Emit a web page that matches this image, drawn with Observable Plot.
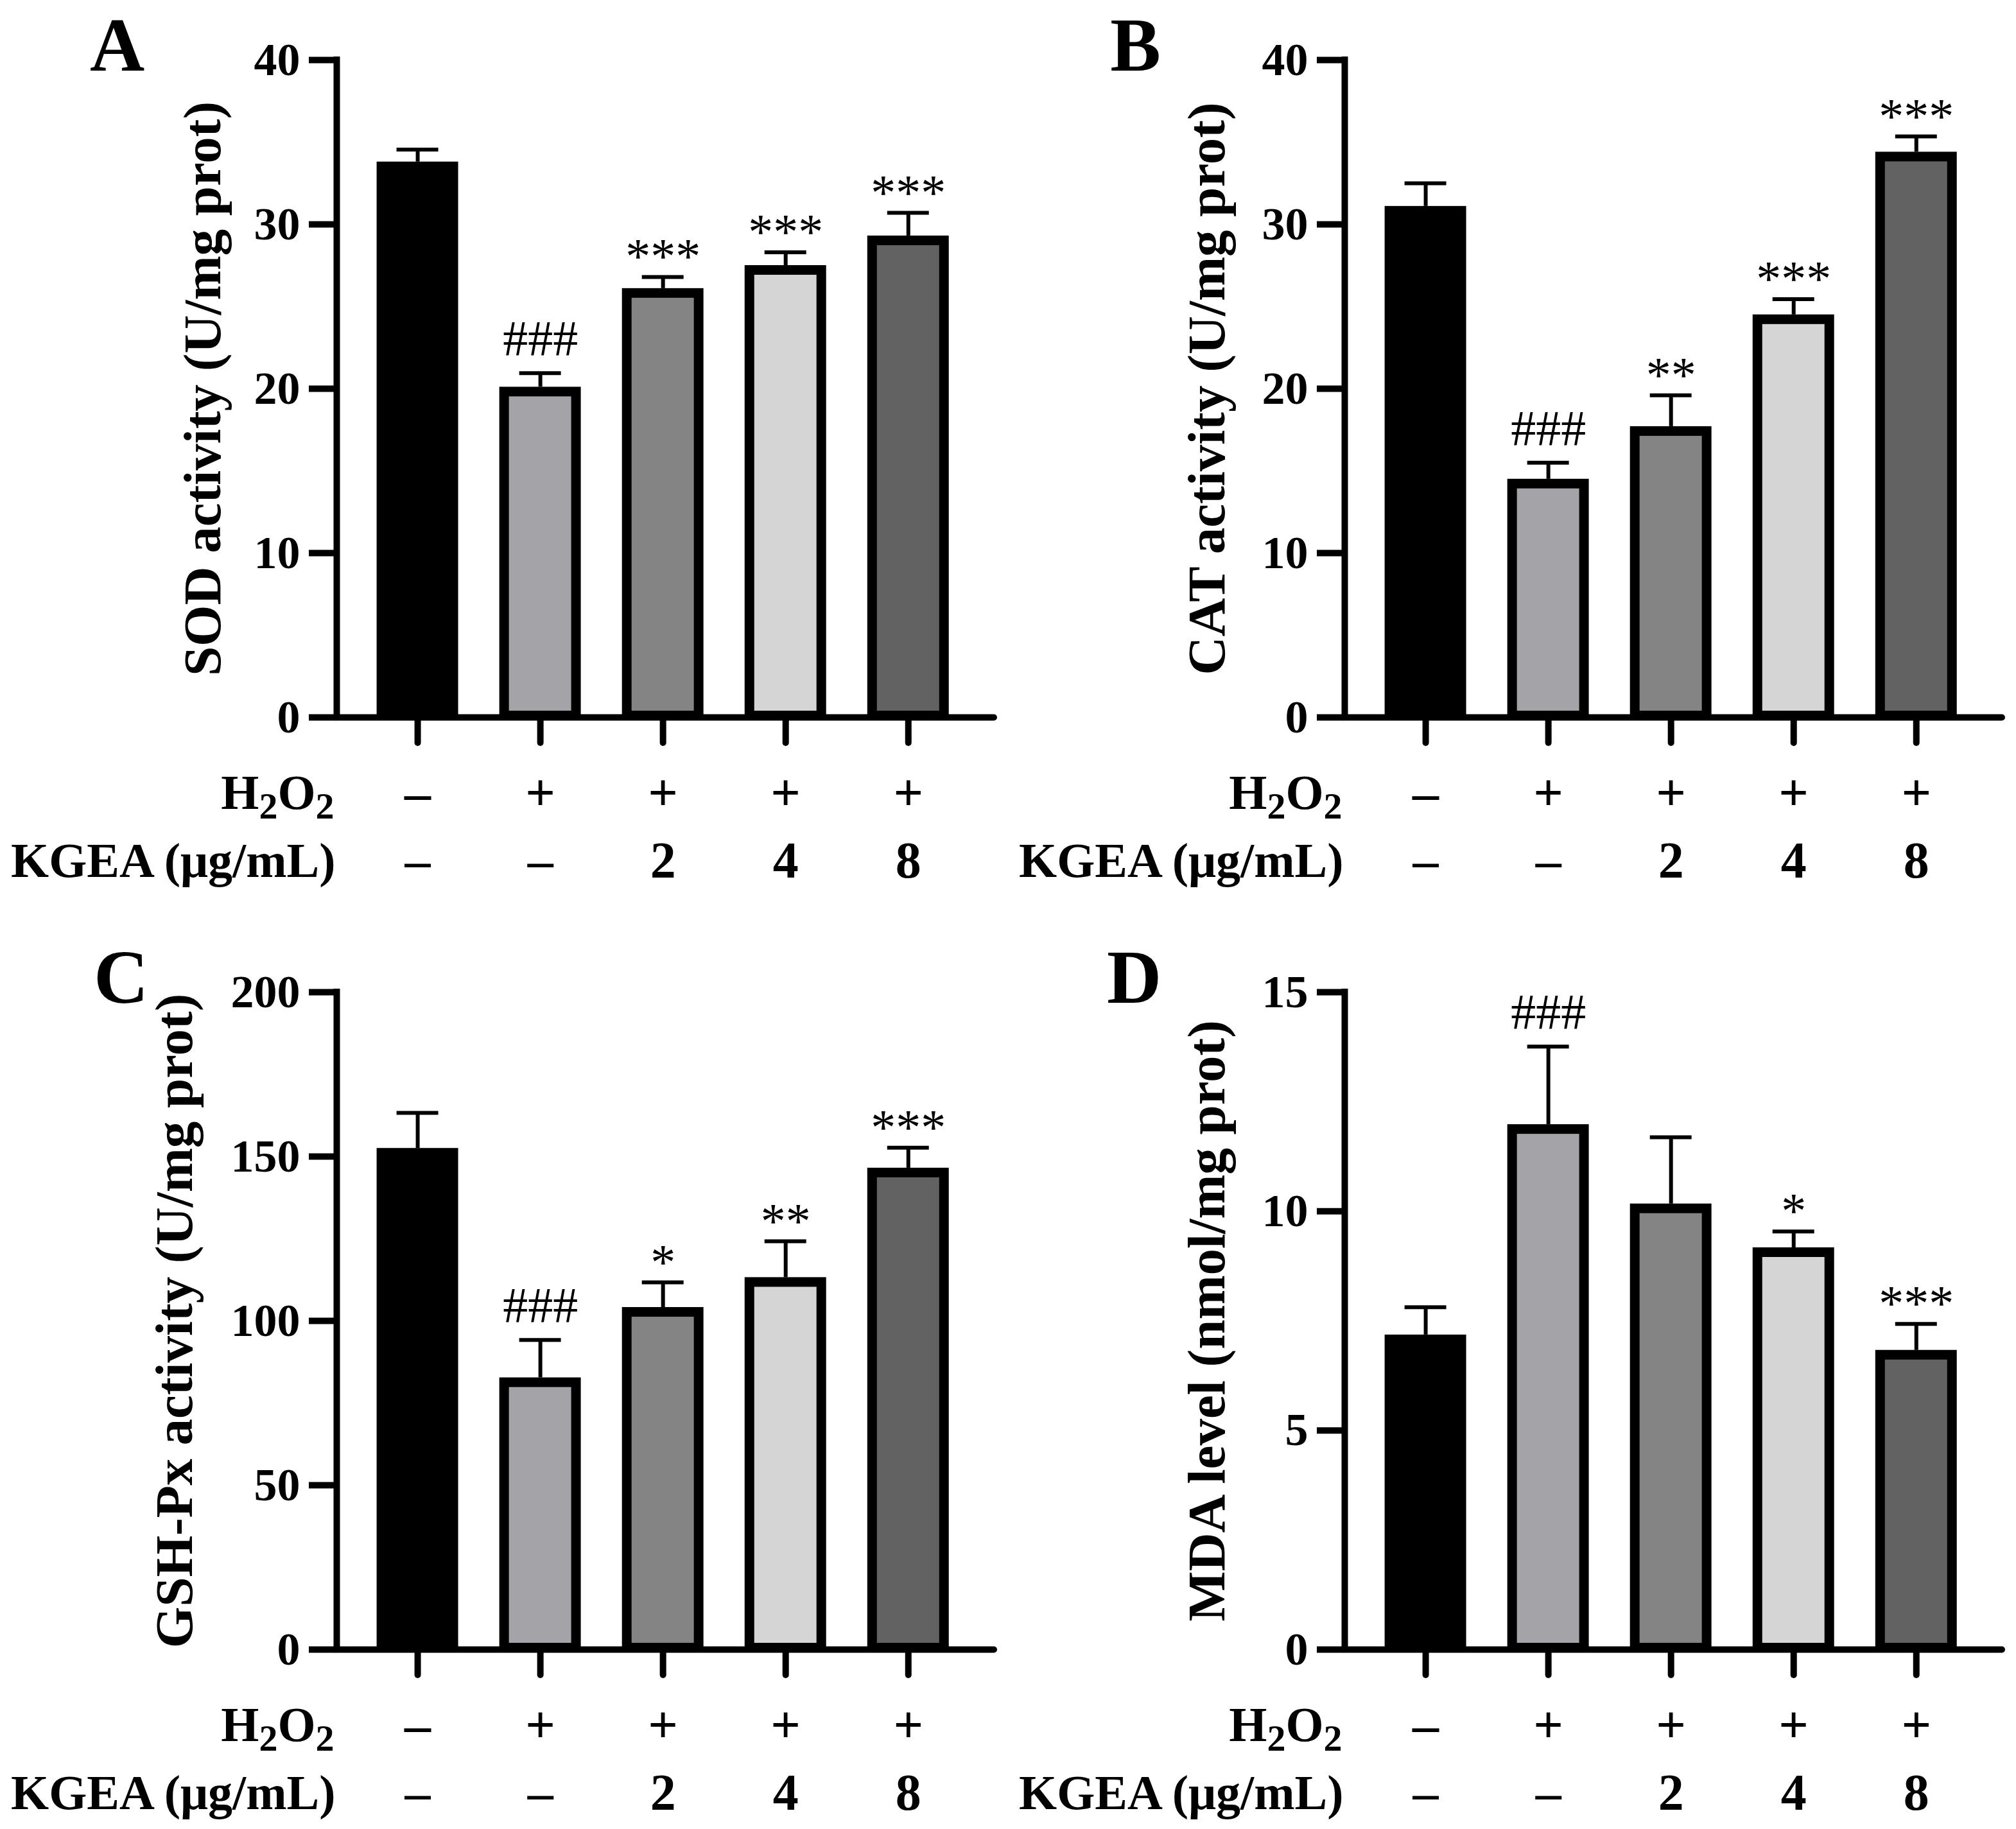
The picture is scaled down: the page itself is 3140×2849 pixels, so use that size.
<!DOCTYPE html>
<html><head><meta charset="utf-8">
<script src="https://cdn.jsdelivr.net/npm/d3@7"></script>
<script src="https://cdn.jsdelivr.net/npm/@observablehq/plot@0.6"></script>
<style>
html,body{margin:0;padding:0;background:#fff;}
#fig{position:relative;width:3140px;height:2849px;background:#fff;overflow:hidden;}
.panel{position:absolute;}
</style></head><body><div id="fig"></div>
<script>
// ---- data ----
const groupIndex = [1, 2, 3, 4, 5];
const h2o2Row = ["–", "+", "+", "+", "+"];
const kgeaRow = ["–", "–", "2", "4", "8"];
const barFills = ["#000000", "#a4a3a8", "#848484", "#d5d5d5", "#626262"];

const sodMean = [33.8, 20.1, 26.1, 27.5, 29.3];
const sodSD   = [0.75, 0.85, 0.7, 0.8, 1.4];
const sodSig  = ["", "###", "***", "***", "***"];
const sodTicks = [0, 10, 20, 30, 40];

const catMean = [31.1, 14.5, 17.7, 24.5, 34.4];
const catSD   = [1.4, 1.0, 1.9, 0.95, 0.95];
const catSig  = ["", "###", "**", "***", "***"];
const catTicks = [0, 10, 20, 30, 40];

const gshMean = [152.5, 82.7, 104.1, 113.2, 146.5];
const gshSD   = [10.8, 11.5, 7.6, 11.0, 6.2];
const gshSig  = ["", "###", "*", "**", "***"];
const gshTicks = [0, 50, 100, 150, 200];

const mdaMean = [7.18, 11.98, 10.17, 9.17, 6.83];
const mdaSD   = [0.63, 1.78, 1.52, 0.37, 0.6];
const mdaSig  = ["", "###", "", "*", "***"];
const mdaTicks = [0, 5, 10, 15];

const panels = [
  {letter: "A", label: "SOD activity (U/mg prot)", mean: sodMean, sd: sodSD, sig: sodSig, ticks: sodTicks, left: 0, top: 0, height: 1452, labelDx: -208, letterX: 182},
  {letter: "B", label: "CAT activity (U/mg prot)", mean: catMean, sd: catSD, sig: catSig, ticks: catTicks, left: 1570, top: 0, height: 1452, labelDx: -214, letterX: 198},
  {letter: "C", label: "GSH-Px activity (U/mg prot)", mean: gshMean, sd: gshSD, sig: gshSig, ticks: gshTicks, left: 0, top: 1452, height: 1397, labelDx: -252, letterX: 188},
  {letter: "D", label: "MDA level (nmol/mg prot)", mean: mdaMean, sd: mdaSD, sig: mdaSig, ticks: mdaTicks, left: 1570, top: 1452, height: 1397, labelDx: -214, letterX: 196}
];

const serif = "'Liberation Serif', 'Times New Roman', Times, serif";
const fig = document.getElementById("fig");

function drawPanel(p) {
  const rows = groupIndex.map((g, i) => ({
    g, mean: p.mean[i], sd: p.sd[i], top: p.mean[i] + p.sd[i],
    sig: p.sig[i], fill: barFills[i], h: h2o2Row[i], k: kgeaRow[i]
  }));
  const x0 = 0.34, x1 = 5.70;
  const yMax = p.ticks[p.ticks.length - 1];
  const bottomY = 1117;
  const svg = Plot.plot({
    width: 1570,
    height: p.height,
    marginLeft: 524,
    marginRight: 22,
    marginTop: 93,
    marginBottom: p.height - bottomY,
    style: {fontFamily: serif, fontSize: "72px", fontWeight: "bold", color: "black", background: "white", overflow: "visible"},
    x: {domain: [x0, x1], axis: null},
    y: {domain: [0, yMax], axis: null},
    color: {type: "identity"},
    marks: [
      Plot.rect(rows, {x1: d => d.g - 0.293, x2: d => d.g + 0.293, y1: 0, y2: "mean", insetTop: 7.5, insetBottom: 2.5, fill: "fill", stroke: "black", strokeWidth: 15}),
      Plot.ruleX(rows, {x: "g", y1: "mean", y2: "top", stroke: "black", strokeWidth: 6}),
      Plot.ruleY(rows, {y: "top", x1: d => d.g - 0.17, x2: d => d.g + 0.17, stroke: "black", strokeWidth: 6}),
      Plot.axisY({ticks: p.ticks, tickSize: 43, tickPadding: 14, strokeWidth: 10, fontSize: 72, fontWeight: "bold", fontFamily: serif, label: null, tickFormat: d => String(d)}),
      Plot.axisX({ticks: groupIndex, tickSize: 40, strokeWidth: 10, strokeLinecap: "round", tickFormat: () => "", label: null}),
      Plot.ruleY([0], {stroke: "black", strokeWidth: 10, strokeLinecap: "round"}),
      Plot.ruleX([x0], {stroke: "black", strokeWidth: 10, strokeLinecap: "square"}),
      Plot.text(rows.filter(d => d.sig.startsWith("#")), {x: "g", y: "top", text: "sig", lineAnchor: "bottom", dy: -28, fontSize: 78, fontWeight: "normal", fontFamily: serif}),
      Plot.text(rows.filter(d => d.sig.startsWith("*")), {x: "g", y: "top", text: "sig", lineAnchor: "bottom", dy: -6, fontSize: 78, fontWeight: "normal", fontFamily: serif}),
      Plot.text(rows, {x: "g", text: "h", frameAnchor: "bottom", lineAnchor: "middle", dy: 118, fontSize: 82, fontWeight: "bold", fontFamily: serif}),
      Plot.text(rows, {x: "g", text: "k", frameAnchor: "bottom", lineAnchor: "middle", dy: 224, fontSize: 80, fontWeight: "bold", fontFamily: serif}),
      Plot.text(["H2O2"], {text: d => d, frameAnchor: "bottom-left", lineAnchor: "middle", dx: -4, dy: 118, textAnchor: "end", fontSize: 76, fontWeight: "bold", fontFamily: serif}),
      Plot.text(["KGEA (μg/mL)"], {text: d => d, frameAnchor: "bottom-left", lineAnchor: "middle", dx: -2, dy: 224, textAnchor: "end", fontSize: 76, fontWeight: "bold", fontFamily: serif}),
      Plot.text([p.label], {text: d => d, frameAnchor: "left", textAnchor: "middle", lineAnchor: "middle", dx: p.labelDx, rotate: -90, fontSize: 83, fontWeight: "bold", fontFamily: serif}),
      Plot.text([p.letter], {text: d => d, frameAnchor: "top-left", textAnchor: "middle", lineAnchor: "bottom", dx: p.letterX - 524, dy: 16, fontSize: 118, fontWeight: "bold", fontFamily: serif})
    ]
  });
  // subscripts for H2O2
  d3.select(svg).selectAll("text").filter(function () { return this.textContent === "H2O2"; }).each(function () {
    const t = d3.select(this);
    t.text(null);
    t.append("tspan").text("H");
    t.append("tspan").attr("font-size", "58px").attr("dy", 15).text("2");
    t.append("tspan").attr("dy", -15).text("O");
    t.append("tspan").attr("font-size", "58px").attr("dy", 15).text("2");
  });
  const div = document.createElement("div");
  div.className = "panel";
  div.style.left = p.left + "px";
  div.style.top = p.top + "px";
  div.style.width = "1570px";
  div.appendChild(svg);
  fig.appendChild(div);
}
panels.forEach(drawPanel);
</script>
</body></html>
